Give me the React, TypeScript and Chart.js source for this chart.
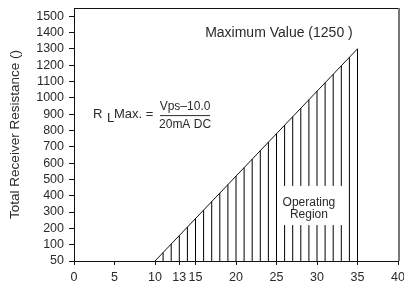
import React, { useEffect, useRef } from "react";
import { Chart, registerables } from "chart.js";

Chart.register(...registerables);

// ---- data ----
const xTickValues = [0, 5, 10, 13, 15, 20, 25, 30, 35, 40];
const yTickValues = [50, 100, 200, 300, 400, 500, 600, 700, 800, 900, 1000, 1100, 1200, 1300, 1400, 1500];
const boundaryVps = [10, 35];
const boundaryR = [50, 1300];
const hatchVps = [11, 12, 13, 14, 15, 16, 17, 18, 19, 20, 21, 22, 23, 24, 25, 26, 27, 28, 29, 30, 31, 32, 33, 34, 35];

const FONT = "'Liberation Sans', Arial, sans-serif";
const TEXT = "#2a2a2a";

// the printed axis puts 50 and 100 one step apart, then 100 per step
const pos = (r: number) => (r <= 100 ? (r - 50) / 50 : r / 100);

const boundaryAt = (v: number) => {
  const t = (v - boundaryVps[0]) / (boundaryVps[1] - boundaryVps[0]);
  return pos(boundaryR[0]) + t * (pos(boundaryR[1]) - pos(boundaryR[0]));
};

const annotations = {
  id: "annotations",
  afterDatasetsDraw(chart: any) {
    const { ctx, chartArea } = chart;
    const xs = chart.scales.x;
    const ys = chart.scales.y;
    ctx.save();
    // frame: top black, right gray
    ctx.strokeStyle = "#111";
    ctx.lineWidth = 1;
    ctx.beginPath();
    ctx.moveTo(chartArea.left, chartArea.top + 0.5);
    ctx.lineTo(chartArea.right + 2, chartArea.top + 0.5);
    ctx.stroke();
    ctx.strokeStyle = "#777";
    ctx.lineWidth = 2;
    ctx.beginPath();
    ctx.moveTo(chartArea.right + 1, chartArea.top);
    ctx.lineTo(chartArea.right + 1, chartArea.bottom);
    ctx.stroke();

    // white box for the region label
    const bx1 = xs.getPixelForValue(25.5);
    const bx2 = xs.getPixelForValue(33.5);
    const by1 = ys.getPixelForValue(4.6);
    const by2 = ys.getPixelForValue(2.2);
    ctx.fillStyle = "#fff";
    ctx.fillRect(bx1, by1, bx2 - bx1, by2 - by1);

    ctx.fillStyle = TEXT;
    ctx.textAlign = "center";
    ctx.textBaseline = "middle";
    ctx.font = `12px ${FONT}`;
    ctx.fillText("Operating", xs.getPixelForValue(29), ys.getPixelForValue(3.57));
    ctx.fillText("Region", xs.getPixelForValue(29), ys.getPixelForValue(2.86));

    ctx.font = `14px ${FONT}`;
    ctx.fillText("Maximum Value (1250 )", xs.getPixelForValue(25.3), ys.getPixelForValue(13.97));

    // formula
    const ax = xs.getPixelForValue(2.35);
    const ay = ys.getPixelForValue(9.0);
    ctx.textAlign = "left";
    ctx.font = `13px ${FONT}`;
    ctx.fillText("R", ax, ay);
    ctx.fillText("L", ax + 14, ay + 4);
    ctx.fillText("Max. =", ax + 21, ay);
    ctx.font = `12px ${FONT}`;
    ctx.textAlign = "center";
    const fx = ax + 67 + 25;
    ctx.fillText("Vps\u201310.0", fx, ay - 7.5);
    ctx.fillText("20mA DC", fx, ay + 11);
    ctx.strokeStyle = TEXT;
    ctx.lineWidth = 1;
    ctx.beginPath();
    ctx.moveTo(ax + 67, ay + 1.5);
    ctx.lineTo(ax + 117, ay + 1.5);
    ctx.stroke();
    ctx.restore();
  },
};

export default function App() {
  const ref = useRef<HTMLCanvasElement | null>(null);
  useEffect(() => {
    if (!ref.current) return;
    const hatchData: any[] = [];
    hatchVps.forEach((v) => {
      hatchData.push({ x: v, y: pos(50) });
      hatchData.push({ x: v, y: boundaryAt(v) });
      hatchData.push({ x: v, y: null });
    });
    const chart = new Chart(ref.current, {
      type: "line",
      data: {
        datasets: [
          {
            data: hatchData,
            borderColor: "#000",
            borderWidth: 1,
            pointRadius: 0,
            spanGaps: false,
            fill: false,
          },
          {
            data: boundaryVps.map((v, i) => ({ x: v, y: pos(boundaryR[i]) })),
            borderColor: "#111",
            borderWidth: 1,
            pointRadius: 0,
            fill: false,
          },
        ],
      },
      options: {
        responsive: false,
        animation: false,
        layout: { padding: { top: 8, right: 6, left: 0, bottom: 0 } },
        plugins: { legend: { display: false }, tooltip: { enabled: false } },
        scales: {
          x: {
            type: "linear",
            min: 0,
            max: 40,
            afterBuildTicks: (s: any) => {
              s.ticks = xTickValues.map((v) => ({ value: v }));
            },
            afterFit: (s: any) => {
              s.height = 22;
              s.paddingLeft = 0;
              s.paddingRight = 0;
            },
            grid: { drawOnChartArea: false, tickLength: 4, color: "#111" },
            border: { color: "#111", width: 1 },
            ticks: {
              autoSkip: false,
              maxRotation: 0,
              padding: 5,
              color: TEXT,
              font: { family: FONT, size: 12.5 },
              callback: (v: any) => String(v),
            },
          },
          y: {
            type: "linear",
            min: 0,
            max: 15.5,
            afterBuildTicks: (s: any) => {
              s.ticks = yTickValues.map((r) => ({ value: pos(r) }));
            },
            afterFit: (s: any) => {
              s.width = 74;
              s.paddingTop = 0;
              s.paddingBottom = 0;
            },
            grid: { drawOnChartArea: false, tickLength: 5, color: "#111" },
            border: { color: "#111", width: 1 },
            ticks: {
              autoSkip: false,
              padding: 5,
              color: TEXT,
              font: { family: FONT, size: 12.5 },
              callback: (_v: any, i: number) => String(yTickValues[i]),
            },
            title: {
              display: true,
              text: "Total Receiver Resistance ()",
              color: TEXT,
              font: { family: FONT, size: 13.5 },
              padding: { top: 7, bottom: 0 },
            },
          },
        },
      },
      plugins: [annotations],
    });
    return () => chart.destroy();
  }, []);
  return (
    <div style={{ position: "absolute", left: 0, top: 0, width: 404, height: 283, background: "#fff" }}>
      <canvas ref={ref} width={404} height={283} style={{ display: "block" }} />
    </div>
  );
}
